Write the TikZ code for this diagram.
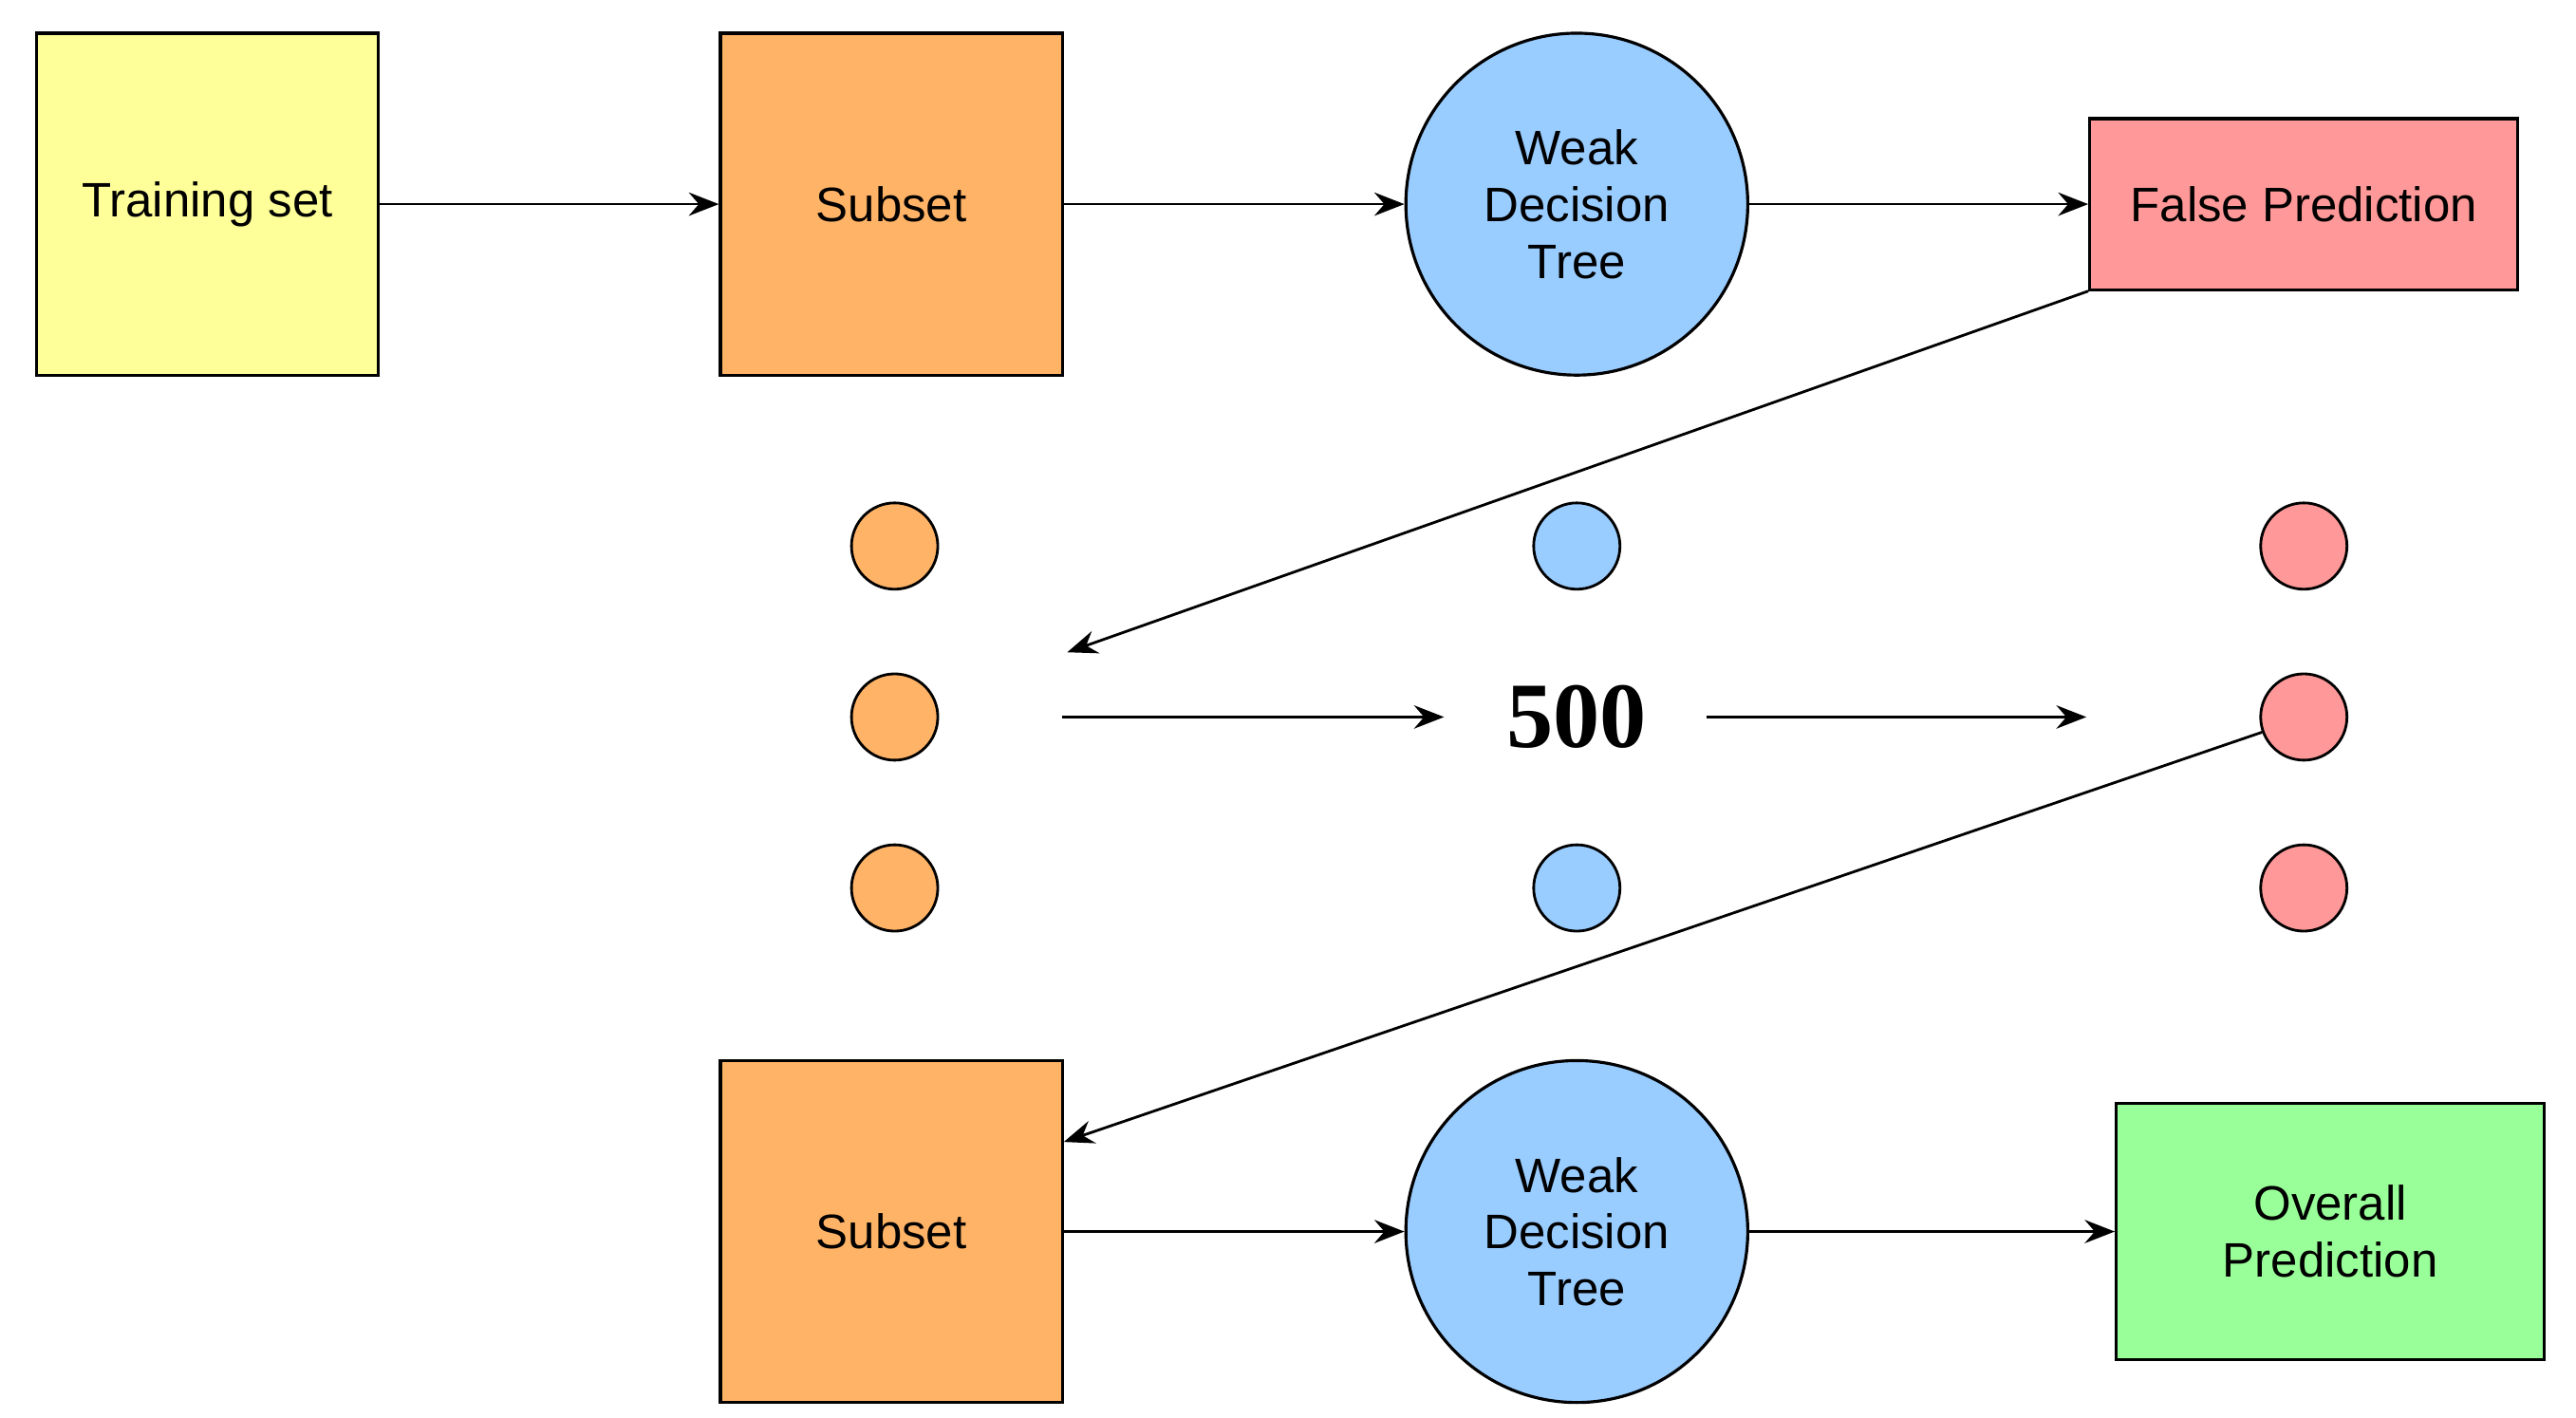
\documentclass[tikz,border=0pt]{standalone}
\usepackage{fontspec}
\setmainfont{Liberation Sans}
\usetikzlibrary{arrows.meta}
\definecolor{cy}{HTML}{FFFF99}
\definecolor{co}{HTML}{FFB366}
\definecolor{cb}{HTML}{99CCFF}
\definecolor{cr}{HTML}{FF9999}
\definecolor{cg}{HTML}{99FF99}
\begin{document}
\begin{tikzpicture}[x=0.01749cm,y=-0.01749cm,
  box/.style={draw,line width=0.9pt,font=\fontsize{14.5}{17}\selectfont,align=center,inner sep=0pt},
  big/.style={circle,draw,line width=0.9pt,minimum size=206*0.01749cm,font=\fontsize{14.5}{17}\selectfont,align=center,inner sep=0pt,fill=cb},
  dot/.style={circle,draw,line width=0.8pt,minimum size=52*0.01749cm,inner sep=0pt},
  arr/.style={-{Stealth[length=9pt,width=7pt,inset=3pt]},line width=0.8pt}]
\useasboundingbox (0,0) rectangle (1552,854);
\node[box,fill=cy,minimum width=206*0.01749cm,minimum height=206*0.01749cm] (ts) at (125,123) {Training set};
\node[box,fill=co,minimum width=206*0.01749cm,minimum height=206*0.01749cm] (s1) at (537,123) {Subset};
\node[big] (w1) at (950,123) {Weak\\Decision\\Tree};
\node[box,fill=cr,minimum width=258*0.01749cm,minimum height=103*0.01749cm] (fp) at (1388,123) {False Prediction};
\foreach \y/\n in {329/a,432/b,535/c}{
  \node[dot,fill=co] (o\n) at (539,\y) {};
  \node[dot,fill=cr] (r\n) at (1388,\y) {};}
\node[dot,fill=cb] (ba) at (950,329) {};
\node[dot,fill=cb] (bc) at (950,535) {};
\node[font=\fontsize{28}{30}\selectfont\bfseries\rmfamily] (n5) at (950,432) {\fontspec{Liberation Serif}500};
\coordinate (a1) at (640,432); \coordinate (a2) at (870,432);
\coordinate (a3) at (1028,432); \coordinate (a4) at (1257,432);
\coordinate (t1) at (643,393);
\node[box,fill=co,minimum width=206*0.01749cm,minimum height=206*0.01749cm] (s2) at (537,742) {Subset};
\node[big] (w2) at (950,742) {Weak\\Decision\\Tree};
\node[box,fill=cg,minimum width=258*0.01749cm,minimum height=154*0.01749cm] (op) at (1404,742) {Overall\\Prediction};
\draw[arr] (ts) -- (s1);
\draw[arr] (s1) -- (w1);
\draw[arr] (w1) -- (fp);
\draw[arr] (fp.south west) -- (t1);
\draw[arr] (a1) -- (a2);
\draw[arr] (a3) -- (a4);
\draw[arr] (rb.200) -- (s2.north east |- 0,688);
\draw[arr] (s2) -- (w2);
\draw[arr] (w2) -- (op);
\end{tikzpicture}
\end{document}
